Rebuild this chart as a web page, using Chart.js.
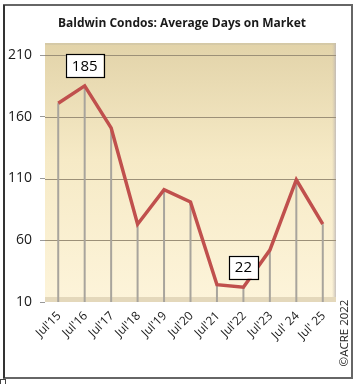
<!DOCTYPE html>
<html>
<head>
<meta charset="utf-8">
<script src="https://cdn.jsdelivr.net/npm/chart.js@4.4.1/dist/chart.umd.min.js"></script>
<style>
  html, body { margin: 0; padding: 0; background: #fff; }
  #wrap { width: 358px; height: 384px; position: relative; }
</style>
</head>
<body>
<div id="wrap"><canvas id="chart"></canvas></div>
<script>
const labels = ["Jul'15", "Jul'16", "Jul'17", "Jul'18", "Jul'19", "Jul'20", "Jul'21", "Jul'22", "Jul'23", "Jul' 24", "Jul' 25"];
const avgDays = [171, 185, 151, 73, 101, 91, 24, 22, 52, 109, 73];
const boxedLabels = [1, 7]; // indexes that get a value box
const yTicks = [10, 60, 110, 160, 210];

const titleText = 'Baldwin Condos: Average Days on Market';
const copyText = '\u00A9ACRE 2022';
const fontFam = '"Open Sans", "DejaVu Sans", sans-serif';

// background, walls, floor, drop lines, boxes, title, border
const decorPlugin = {
    id: 'decor',
    beforeDatasetsDraw(chart) {
        const { ctx, chartArea: a, scales } = chart;
        ctx.save();
        // back wall gradient (extends a bit above top tick like the 3D chart)
        const top = a.top - 12;
        const g = ctx.createLinearGradient(0, top, 0, a.bottom);
        g.addColorStop(0, '#e2d3a9');
        g.addColorStop(0.45, '#f6eac6');
        g.addColorStop(1, '#fdf4da');
        ctx.fillStyle = g;
        ctx.fillRect(a.left, top, a.right - a.left, a.bottom - top);
        // right side wall shade
        const sg = ctx.createLinearGradient(a.right - 4, 0, a.right, 0);
        sg.addColorStop(0, 'rgba(200,190,170,0)');
        sg.addColorStop(1, 'rgba(185,180,185,0.8)');
        ctx.fillStyle = sg;
        ctx.fillRect(a.right - 4, top, 4, a.bottom - top);
        // top rim
        ctx.fillStyle = 'rgba(205,195,165,0.6)';
        ctx.fillRect(a.left, top, a.right - a.left, 2);
        // floor
        ctx.fillStyle = '#e4d8bb';
        ctx.fillRect(a.left, a.bottom - 5, a.right - a.left, 5);
        // grid lines redrawn over wall
        ctx.strokeStyle = '#9c9078';
        ctx.lineWidth = 1.2;
        yTicks.forEach(v => {
            if (v === 10) return;
            const y = Math.round(scales.y.getPixelForValue(v)) + 0.5;
            ctx.beginPath();
            ctx.moveTo(a.left, y);
            ctx.lineTo(a.right, y);
            ctx.stroke();
        });
        // drop lines
        ctx.strokeStyle = '#a8a49c';
        ctx.lineWidth = 2;
        avgDays.forEach((v, i) => {
            const x = scales.x.getPixelForValue(i);
            ctx.beginPath();
            ctx.moveTo(x, scales.y.getPixelForValue(v));
            ctx.lineTo(x, a.bottom);
            ctx.stroke();
        });
        ctx.restore();
    },
    afterDatasetsDraw(chart) {
        const { ctx, scales } = chart;
        ctx.save();
        ctx.font = '15px ' + fontFam;
        ctx.textAlign = 'center';
        ctx.textBaseline = 'middle';
        boxedLabels.forEach(i => {
            const x = scales.x.getPixelForValue(i);
            const y = scales.y.getPixelForValue(avgDays[i]) - 20;
            const txt = String(avgDays[i]);
            const w = ctx.measureText(txt).width + 12;
            const h = 23;
            ctx.fillStyle = '#fff';
            ctx.fillRect(x - w / 2, y - h / 2, w, h);
            ctx.strokeStyle = '#000';
            ctx.lineWidth = 1.2;
            ctx.strokeRect(Math.round(x - w / 2) + 0.5, Math.round(y - h / 2) + 0.5, Math.round(w), h);
            ctx.fillStyle = '#000';
            ctx.fillText(txt, x, y + 1);
        });
        ctx.restore();
    },
    afterDraw(chart) {
        const { ctx, chartArea: a, scales } = chart;
        // x labels at 45 degrees
        ctx.save();
        ctx.font = '12px ' + fontFam;
        ctx.fillStyle = '#1a1a1a';
        ctx.textAlign = 'right';
        ctx.textBaseline = 'middle';
        labels.forEach((lab, i) => {
            const x = scales.x.getPixelForValue(i);
            ctx.save();
            ctx.translate(x + 1, a.bottom + 12);
            ctx.rotate(-Math.PI / 4);
            ctx.fillText(lab, 0, 0);
            ctx.restore();
        });
        ctx.restore();
        ctx.save();
        // title
        ctx.fillStyle = '#1a1a1a';
        ctx.font = 'bold 12px ' + fontFam;
        ctx.textAlign = 'center';
        ctx.textBaseline = 'middle';
        ctx.fillText(titleText, 182, 24);
        // copyright, vertical
        ctx.translate(345, 333);
        ctx.rotate(-Math.PI / 2);
        ctx.font = '11.5px ' + fontFam;
        ctx.fillStyle = '#222';
        ctx.fillText(copyText, 0, 0);
        ctx.restore();
        // outer frame
        ctx.save();
        ctx.strokeStyle = '#666';
        ctx.lineWidth = 2;
        ctx.strokeRect(4, 5, 348, 373);
        ctx.strokeStyle = '#333';
        ctx.beginPath();
        ctx.moveTo(4, 5);
        ctx.lineTo(4, 378);
        ctx.stroke();
        ctx.lineWidth = 1;
        ctx.strokeStyle = '#444';
        ctx.strokeRect(0.5, 379.5, 5, 5);
        ctx.restore();
    }
};

new Chart(document.getElementById('chart'), {
    type: 'line',
    data: {
        labels: labels,
        datasets: [{
            label: 'Average Days on Market',
            data: avgDays,
            borderColor: '#c0504d',
            borderWidth: 3.5,
            pointRadius: 0,
            tension: 0,
            fill: false
        }]
    },
    options: {
        responsive: true,
        maintainAspectRatio: false,
        animation: false,
        layout: { padding: { left: 4, right: 22, top: 55, bottom: 0 } },
        plugins: {
            legend: { display: false },
            tooltip: { enabled: false }
        },
        scales: {
            x: {
                offset: true,
                afterFit: s => { s.height = 82; },
                grid: { display: false },
                border: { display: false },
                ticks: { display: false }
            },
            y: {
                min: 10,
                max: 210,
                afterFit: s => { s.width = 41; },
                afterBuildTicks: s => { s.ticks = yTicks.map(v => ({ value: v })); },
                grid: {
                    drawOnChartArea: false,
                    tickLength: 5,
                    tickColor: '#999'
                },
                border: { display: false },
                ticks: {
                    padding: 8,
                    color: '#1a1a1a',
                    font: { size: 14, family: fontFam }
                }
            }
        }
    },
    plugins: [decorPlugin]
});
</script>
</body>
</html>
